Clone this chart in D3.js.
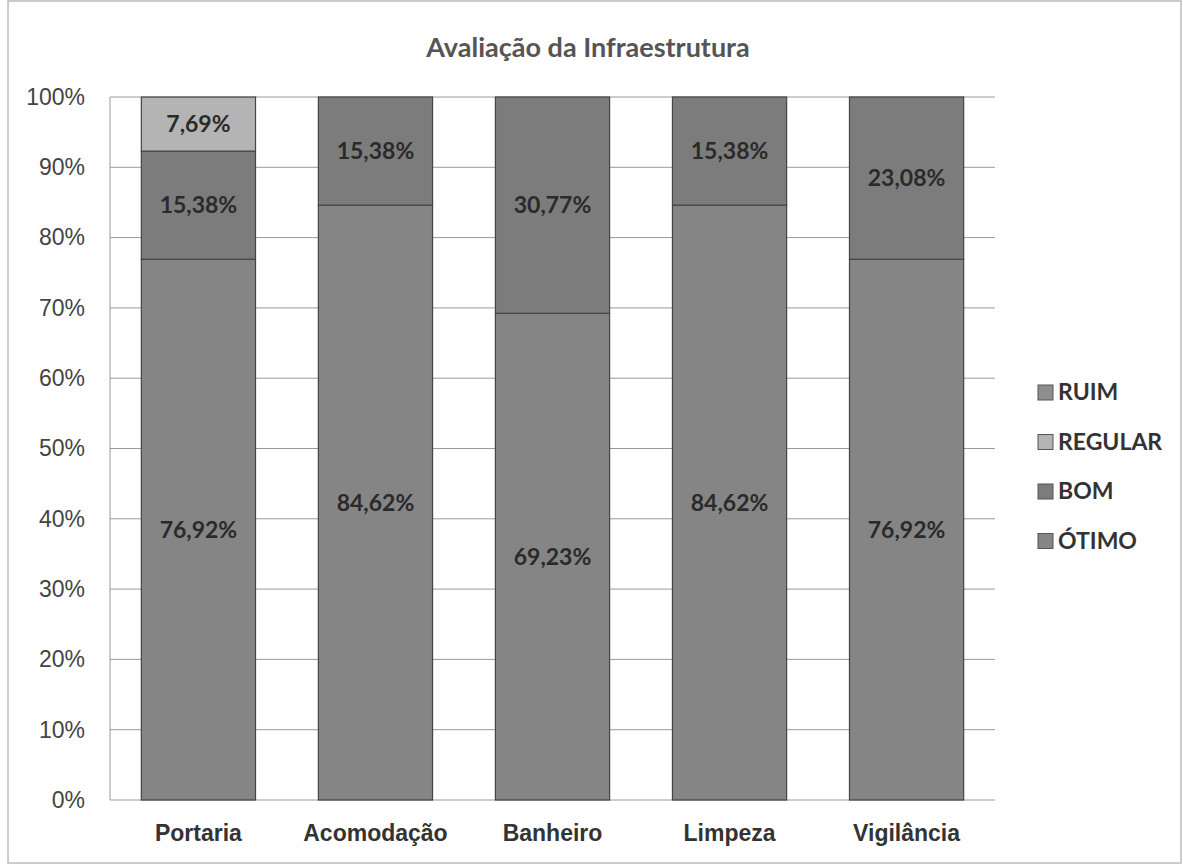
<!DOCTYPE html>
<html>
<head>
<meta charset="utf-8">
<script src="https://cdn.jsdelivr.net/npm/d3@7"></script>
<style>
  body { margin: 0; background: #fff; }
  svg { font-family: Lato, "Open Sans", sans-serif; }
</style>
</head>
<body>
<script>
var categories = ["Portaria", "Acomodação", "Banheiro", "Limpeza", "Vigilância"];
var seriesNames = ["ÓTIMO", "BOM", "REGULAR", "RUIM"];
var otimo   = [76.92, 84.62, 69.23, 84.62, 76.92];
var bom     = [15.38, 15.38, 30.77, 15.38, 23.08];
var regular = [7.69, 0, 0, 0, 0];
var ruim    = [0, 0, 0, 0, 0];
var yTicks  = [0, 10, 20, 30, 40, 50, 60, 70, 80, 90, 100];

var colors = { "ÓTIMO": "#858585", "BOM": "#7c7c7c", "REGULAR": "#b4b4b4", "RUIM": "#8e8e8e" };

var width = 1183, height = 864;
var margin = { left: 110, right: 188, top: 97, bottom: 64 };

var svg = d3.select("body").append("svg")
    .attr("width", width)
    .attr("height", height);

// frame of the chart area
svg.append("rect")
    .attr("x", 8).attr("y", 1)
    .attr("width", width - 10).attr("height", height - 2)
    .attr("fill", "none").attr("stroke", "#bbb").attr("stroke-width", 1.5);

var table = categories.map(function(c, i) {
    return { cat: c, "ÓTIMO": otimo[i], "BOM": bom[i], "REGULAR": regular[i], "RUIM": ruim[i] };
});
var stacked = d3.stack().keys(seriesNames)(table);

var x = d3.scaleBand()
    .domain(categories)
    .range([margin.left, width - margin.right])
    .paddingInner(0.355)
    .paddingOuter(0.177);

var y = d3.scaleLinear()
    .domain([0, 100])
    .range([height - margin.bottom, margin.top]);

// gridlines
svg.append("g")
    .selectAll("line")
    .data(yTicks)
    .enter().append("line")
        .attr("x1", margin.left).attr("x2", width - margin.right)
        .attr("y1", function(d) { return y(d); })
        .attr("y2", function(d) { return y(d); })
        .attr("stroke", "#9a9a9a").attr("stroke-width", 1);

svg.append("line")
    .attr("x1", margin.left).attr("x2", margin.left)
    .attr("y1", y(0)).attr("y2", y(100))
    .attr("stroke", "#9a9a9a");

// y axis
var yAxis = svg.append("g")
    .attr("transform", "translate(" + margin.left + ",0)")
    .call(d3.axisLeft(y).tickValues(yTicks).tickSize(0).tickPadding(25)
        .tickFormat(function(d) { return d + "%"; }));
yAxis.select(".domain").remove();
yAxis.selectAll("text").attr("font-size", 23).attr("fill", "#444");

// x axis
var xAxis = svg.append("g")
    .attr("transform", "translate(0," + y(0) + ")")
    .call(d3.axisBottom(x).tickSize(0).tickPadding(25));
xAxis.select(".domain").remove();
xAxis.selectAll("text").attr("font-size", 23).attr("font-weight", "bold").attr("fill", "#333");

// bars
var groups = svg.append("g")
    .selectAll("g")
    .data(stacked)
    .enter().append("g")
        .attr("fill", function(d) { return colors[d.key]; });

groups.selectAll("rect")
    .data(function(d) { return d; })
    .enter().append("rect")
        .attr("x", function(d) { return x(d.data.cat); })
        .attr("width", x.bandwidth())
        .attr("y", function(d) { return y(d[1]); })
        .attr("height", function(d) { return y(d[0]) - y(d[1]); })
        .attr("stroke", "#444")
        .attr("stroke-width", function(d) { return d[1] > d[0] ? 1.2 : 0; });

// value labels
groups.selectAll("text")
    .data(function(d) { return d.filter(function(v) { return v[1] - v[0] > 0; }); })
    .enter().append("text")
        .attr("x", function(d) { return x(d.data.cat) + x.bandwidth() / 2; })
        .attr("y", function(d) { return y((d[0] + d[1]) / 2); })
        .attr("dy", "0.35em")
        .attr("text-anchor", "middle")
        .attr("font-size", 23)
        .attr("font-weight", "bold")
        .attr("fill", "#2a2a2a")
        .text(function(d) { return (d[1] - d[0]).toFixed(2).replace(".", ",") + "%"; });

// title
svg.append("text")
    .attr("x", 588).attr("y", 57)
    .attr("text-anchor", "middle")
    .attr("font-size", 27).attr("font-weight", "bold")
    .attr("fill", "#555")
    .text("Avaliação da Infraestrutura");

// legend (reverse order, as in the picture)
var legendNames = seriesNames.slice().reverse();
var legend = svg.append("g")
    .selectAll("g")
    .data(legendNames)
    .enter().append("g")
        .attr("transform", function(d, i) { return "translate(1038," + (392 + i * 49.5) + ")"; });

legend.append("rect")
    .attr("x", 0).attr("y", -7).attr("width", 15).attr("height", 15)
    .attr("fill", function(d) { return colors[d]; })
    .attr("stroke", "#555");

legend.append("text")
    .attr("x", 20).attr("dy", "0.36em")
    .attr("font-size", 23).attr("font-weight", "bold").attr("fill", "#333")
    .text(function(d) { return d; });
</script>
</body>
</html>
